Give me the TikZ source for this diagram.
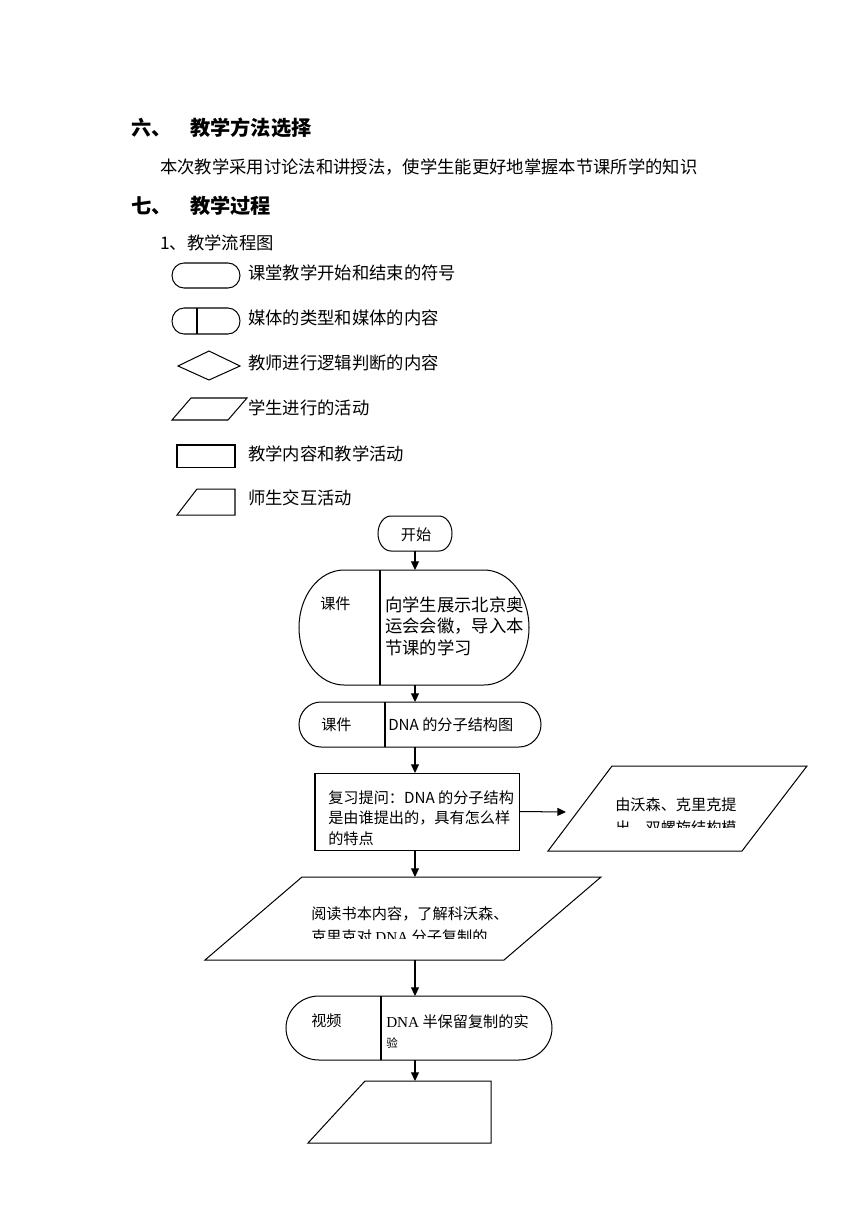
\documentclass[tikz,border=0pt]{standalone}
\usepackage{fontspec}
\setmainfont{Liberation Serif}
\newfontfamily\cjk{Noto Sans CJK SC}
\usetikzlibrary{arrows.meta,fit}

\tikzset{
  shapeline/.style={line width=0.7pt},
  flow/.style={line width=0.7pt,-{Triangle[length=6pt,width=5.5pt]}},
  spot/.style={inner sep=0pt,outer sep=0pt},
  head/.style={anchor=west,inner sep=0pt,font=\cjk\bfseries\fontsize{14}{16}\selectfont},
  note/.style={anchor=west,inner sep=0pt,font=\cjk\fontsize{12}{14}\selectfont},
  cell/.style={inner sep=0pt,align=left,font=\cjk\fontsize{10.5}{14}\selectfont},
}

% name, x1, y1, x2, y2, end radius
\newcommand{\capsulebox}[6]{%
  \draw[shapeline] ({#2+#6},#3) -- ({#4-#6},#3)
    .. controls ({#4-0.448*#6},#3) and (#4,{#3+0.224*(#5-#3)}) .. (#4,{(#3+#5)/2})
    .. controls (#4,{#5-0.224*(#5-#3)}) and ({#4-0.448*#6},#5) .. ({#4-#6},#5)
    -- ({#2+#6},#5)
    .. controls ({#2+0.448*#6},#5) and (#2,{#5-0.224*(#5-#3)}) .. (#2,{(#3+#5)/2})
    .. controls (#2,{#3+0.224*(#5-#3)}) and ({#2+0.448*#6},#3) .. cycle;
  \node[spot,fit={(#2,#3) (#4,#5)}] (#1) {};}

\begin{document}
\begin{tikzpicture}[x=0.6923pt,y=-0.6923pt]
  \useasboundingbox (0,0) rectangle (860,1216);
  \node[head] (h6) at (131,128) {六、};
  \node[head] (h6t) at (190,128) {教学方法选择};
  \node[note] (method) at (160,167) {本次教学采用讨论法和讲授法，使学生能更好地掌握本节课所学的知识};
  \node[head] (h7) at (131,206) {七、};
  \node[head] (h7t) at (190,206) {教学过程};
  \node[note] (chart) at (160,243) {1、教学流程图};

  % legend
  \capsulebox{lgend}{172}{263}{240}{288}{12}
  \node[note] (lgendtxt) at (248,273) {课堂教学开始和结束的符号};
  \capsulebox{lgmedia}{172}{308}{240}{334}{12}
  \draw[shapeline] (197,308) -- (197,334);
  \node[note] (lgmediatxt) at (248,318) {媒体的类型和媒体的内容};
  \draw[shapeline] (178,366) -- (209,351) -- (240,366) -- (209,380) -- cycle;
  \node[note] (lgjudgetxt) at (248,363) {教师进行逻辑判断的内容};
  \draw[shapeline] (191,398) -- (247,398) -- (228,420) -- (172,420) -- cycle;
  \node[note] (lgstudtxt) at (248,408) {学生进行的活动};
  \draw[shapeline] (177,445) rectangle (235,467);
  \node[note] (lgteachtxt) at (248,454) {教学内容和教学活动};
  \draw[shapeline] (197,489) -- (235,489) -- (235,515) -- (177,515) -- cycle;
  \node[note] (lgbothtxt) at (248,498) {师生交互活动};

  % flow chart
  \capsulebox{start}{378}{516}{452}{551}{13}
  \node[cell] (starttxt) at (416,535) {开始};

  \capsulebox{kj1}{299}{570}{529}{685}{45}
  \draw[shapeline] (380,570) -- (380,685);
  \node[cell,anchor=west] (kj1a) at (320,604) {课件};
  \node[cell,anchor=north west,font=\cjk\fontsize{12}{15.2}\selectfont] (kj1b) at (385,596) {向学生展示北京奥\\运会会徽，导入本\\节课的学习};

  \capsulebox{kj2}{299}{702}{541}{747}{22}
  \draw[shapeline] (385,702) -- (385,747);
  \node[cell,anchor=west] (kj2a) at (321,725) {课件};
  \node[cell,anchor=west] (kj2b) at (388,725) {DNA 的分子结构图};

  \node[spot,draw,shapeline,fit={(315,773) (519,850)}] (fx) {};
  \node[cell,anchor=north west,font=\cjk\fontsize{10.5}{14.2}\selectfont] (fxtxt) at (328,790) {复习提问：DNA 的分子结构\\是由谁提出的，具有怎么样\\的特点};

  \draw[shapeline] (612,766) -- (807,766) -- (742,851) -- (548,851) -- cycle;
  \node[spot,fit={(548,766) (807,851)}] (ans) {};
  \coordinate (ansin) at (566,812);
  \begin{scope}
    \clip (548,766) rectangle (807,827);
    \node[cell,anchor=north west,font=\cjk\fontsize{10.5}{16.5}\selectfont] (anstxt) at (615,797) {由沃森、克里克提\\出，双螺旋结构模};
  \end{scope}

  \draw[shapeline] (302,877) -- (601,877) -- (504,960) -- (205,960) -- cycle;
  \node[spot,fit={(205,877) (601,960)}] (read) {};
  \begin{scope}
    \clip (205,877) rectangle (601,938);
    \node[cell,anchor=north west,font=\cjk\fontsize{10.5}{16.5}\selectfont] (readtxt) at (311,906) {阅读书本内容，了解科沃森、\\克里克对 {\rmfamily DNA} 分子复制的};
  \end{scope}

  \capsulebox{sp}{286}{996}{552}{1060}{33}
  \draw[shapeline] (381,996) -- (381,1060);
  \node[cell,anchor=west] (spa) at (311,1021) {视频};
  \node[cell,anchor=north west] (spb) at (386,1014) {{\rmfamily DNA} 半保留复制的实\\{\fontsize{8}{14}\selectfont 验}};

  \draw[shapeline] (365,1081) -- (491,1081) -- (491,1143) -- (308,1143) -- cycle;
  \node[spot,fit={(308,1081) (491,1143)}] (next) {};

  \draw[flow] (start.south) -- (start.south |- kj1.north);
  \draw[flow] (kj1.south -| start) -- (kj2.north -| start);
  \draw[flow] (kj2.south -| start) -- (fx.north -| start);
  \draw[flow] (fx.south -| start) -- (read.north -| start);
  \draw[flow] (read.south -| start) -- (sp.north -| start);
  \draw[flow] (sp.south -| start) -- (next.north -| start);
  \draw[flow] (fx.east) -- (ansin);
  % \draw[very thin,color=gray] (0,0) grid[step=50] (860,1216);
\end{tikzpicture}
\end{document}
